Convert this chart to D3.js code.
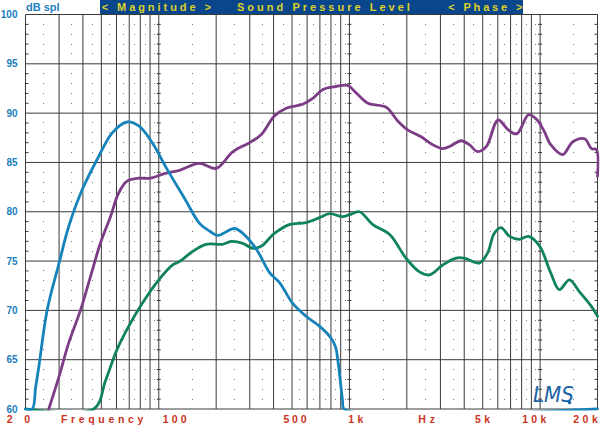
<!DOCTYPE html>
<html><head><meta charset="utf-8">
<script src="https://cdn.jsdelivr.net/npm/d3@7"></script>
<style>html,body{margin:0;padding:0;background:#fff;overflow:hidden}svg{display:block}</style>
</head><body><svg id="c" width="600" height="425"></svg>
<script>
// ---- data: [frequency Hz, dB SPL] ----
const blueCurve = [[20,60],[21.7,60],[22.6,62.2],[23.5,64.3],[26,70.05],[30,74.8],[33.7,78.5],[39.6,82.2],[48.4,85.6],[57,88.0],[68.2,89.1],[78.6,88.7],[92.4,87.0],[108.4,84.6],[138,81.2],[164,78.8],[186,78.0],[204,77.6],[250,78.3],[287,77.5],[330,76.0],[382,73.8],[431,72.8],[504,70.7],[592,69.4],[696,68.4],[800,67.2],[845,66.3],[878,64.3],[920,60.9],[940,60],[20000,60]];
const purpleCurve = [[26.5,60],[30,63.3],[33.7,66.7],[38.9,70.05],[43.8,73.4],[49.4,76.8],[55.8,79.5],[61.6,81.9],[68.2,83.1],[78.6,83.4],[90.4,83.4],[108.4,83.9],[128.5,84.2],[163,84.9],[200,84.4],[245,86.1],[299,87.0],[344,87.8],[404,89.7],[466,90.5],[568,90.9],[642,91.5],[726,92.4],[850,92.7],[980,92.8],[1084,92.05],[1252,91.0],[1558,90.6],[1792,89.2],[2020,88.3],[2376,87.6],[2734,86.8],[3086,86.4],[3411,86.7],[3848,87.2],[4252,86.8],[4700,86.1],[5220,86.6],[6020,89.3],[6812,88.3],[7552,87.9],[8712,89.85],[9652,89.3],[10478,88.2],[11372,86.8],[13136,85.8],[14852,87.1],[17120,87.4],[18580,86.4],[19740,86.3],[20000,83.6]];
const greenCurve = [[20,60],[45.6,60],[52.6,62.9],[60.3,66],[69.6,68.4],[81.8,70.7],[100,73.1],[117.8,74.6],[128.5,74.95],[151,76.0],[177,76.7],[216,76.7],[240,77.0],[276,76.8],[310,76.3],[344,76.5],[404,77.8],[484,78.7],[592,78.9],[696,79.4],[788,79.8],[920,79.5],[1000,79.7],[1128,80.0],[1326,78.7],[1626,77.7],[1978,75.3],[2330,73.9],[2630,73.6],[3086,74.6],[3620,75.3],[4000,75.3],[4796,74.8],[5300,75.8],[5740,77.8],[6230,78.4],[6920,77.5],[7780,77.2],[8712,77.5],[9950,76.5],[11372,73.8],[12620,72.1],[14240,73.1],[16060,71.9],[18580,70.4],[20000,69.4]];

const yTicks = [60,65,70,75,80,85,90,95,100];
const xTickFreqs = [20,100,500,1000,5000,10000,20000];
const xTickLabels = ["20","100","500","1k","5k","10k","20k"];
const yTitle = "dB spl";
const xTitle = "Frequency";
const xUnit = "Hz";
const bannerTexts = ["< Magnitude >","Sound Pressure Level","< Phase >"];
const logoText = "LMS";

// ---- layout ----
const svg = d3.select("#c");
const x = d3.scaleLog().domain([20,20000]).range([25.5,597.5]);
const y = d3.scaleLinear().domain([60,100]).range([409,14.5]);
const GRID = "#3a3a3a";
const FONT = "'Liberation Sans', Arial, Helvetica, sans-serif";

svg.append("defs").append("clipPath").attr("id","plotclip").append("rect")
  .attr("x",x(20)-2).attr("y",y(100)-2).attr("width",x(20000)-x(20)+4).attr("height",y(60)-y(100)+3.5);

const majors = [];
[10,100,1000,10000].forEach(d=>{ for(let k=1;k<=9;k++){ const f=d*k; if(f>=20&&f<=20000) majors.push(f);} });
majors.push(20000);
const minors = [];
[10,100,1000,10000].forEach(d=>{ for(let k=1;k<=9;k++){ const f=d*(k+0.5); if(f>20&&f<20000) minors.push(f);} });

const gDots = svg.append("g");
for(let v=61; v<100; v++){
  if(v%5===0) continue;
  minors.forEach(f=>{
    gDots.append("rect").attr("x",Math.floor(x(f))).attr("y",Math.floor(y(v))).attr("width",1).attr("height",1).attr("fill","#777");
  });
}

const gGrid = svg.append("g");
majors.forEach(f=>{
  gGrid.append("line").attr("x1",x(f)).attr("x2",x(f)).attr("y1",y(100)).attr("y2",y(60)).attr("stroke",GRID).attr("stroke-width",1);
});
for(let v=60; v<=100; v+=5){
  gGrid.append("line").attr("x1",x(20)).attr("x2",x(20000)).attr("y1",y(v)).attr("y2",y(v)).attr("stroke",GRID).attr("stroke-width",1);
}
for(let v=61; v<100; v++){
  if(v%5===0) continue;
  gGrid.append("line").attr("x1",x(20)).attr("x2",x(20)+3).attr("y1",y(v)).attr("y2",y(v)).attr("stroke",GRID);
  [100,1000,10000].forEach(f=>{
    gGrid.append("line").attr("x1",x(f)-2).attr("x2",x(f)+2).attr("y1",y(v)).attr("y2",y(v)).attr("stroke",GRID);
  });
  gGrid.append("line").attr("x1",x(20000)-3).attr("x2",x(20000)).attr("y1",y(v)).attr("y2",y(v)).attr("stroke",GRID);
}

const line = d3.line().x(d=>x(d[0])).y(d=>y(d[1])).curve(d3.curveCatmullRom.alpha(0.5));
const gCurves = svg.append("g").attr("clip-path","url(#plotclip)");
[[greenCurve,"#11825f"],[purpleCurve,"#7c3c86"],[blueCurve,"#1683ba"]].forEach(([data,col])=>{
  gCurves.append("path").attr("d",line(data)).attr("fill","none").attr("stroke",col).attr("stroke-width",2.8).attr("stroke-linejoin","round").attr("stroke-linecap","round");
});

function spread(t, span){
  const n = t.text().length;
  const w = t.node().getComputedTextLength();
  if(n>1) t.attr("letter-spacing", ((span-w)/(n-1)).toFixed(2));
}

yTicks.forEach(v=>{
  svg.append("text").attr("x",17.5).attr("y",y(v)+3.6).attr("text-anchor","end")
    .attr("font-family",FONT).attr("font-weight","bold").attr("font-size",10).attr("fill","#1a80c0").text(v);
});
svg.append("text").attr("x",26).attr("y",10.8).attr("font-family",FONT).attr("font-weight","bold").attr("font-size",11).attr("fill","#1a80c0").text(yTitle);

const xLabelNudge = [[-18.8,23.3],[3.9,24],[-8.5,23],[-1.1,15],[-7.7,15],[-17.8,24],[-24.2,24.5]];
xTickFreqs.forEach((f,i)=>{
  const t = svg.append("text").attr("x",x(f)+xLabelNudge[i][0]).attr("y",423.3)
    .attr("font-family",FONT).attr("font-weight","bold").attr("font-size",10.5).attr("fill","#cc3322").text(xTickLabels[i]);
  spread(t, xLabelNudge[i][1]);
});
const tf = svg.append("text").attr("x",61).attr("y",423.3).attr("font-family",FONT).attr("font-weight","bold").attr("font-size",10.5).attr("fill","#cc3322").text(xTitle);
spread(tf, 82.3);
const th = svg.append("text").attr("x",418.3).attr("y",423.3).attr("font-family",FONT).attr("font-weight","bold").attr("font-size",10.5).attr("fill","#cc3322").text(xUnit);
spread(th, 16.7);

svg.append("rect").attr("x",100).attr("y",0).attr("width",423).attr("height",14).attr("fill","#0a468c");
const bannerPos = [[101.7,109.3],[237,173],[448.3,74]];
bannerTexts.forEach((s,i)=>{
  const t = svg.append("text").attr("x",bannerPos[i][0]).attr("y",11).attr("font-family",FONT).attr("font-weight","bold").attr("font-size",11).attr("fill","#dcd228").text(s);
  spread(t, bannerPos[i][1]);
});

svg.append("text").attr("x",533).attr("y",402).attr("font-family","'DejaVu Sans', sans-serif").attr("font-style","italic").attr("font-size",21).attr("fill","#1a64a4").attr("textLength",41).attr("lengthAdjust","spacingAndGlyphs").text(logoText);
svg.append("circle").attr("cx",569.5).attr("cy",402.5).attr("r",1.8).attr("fill","#1a64a4");
</script></body></html>
